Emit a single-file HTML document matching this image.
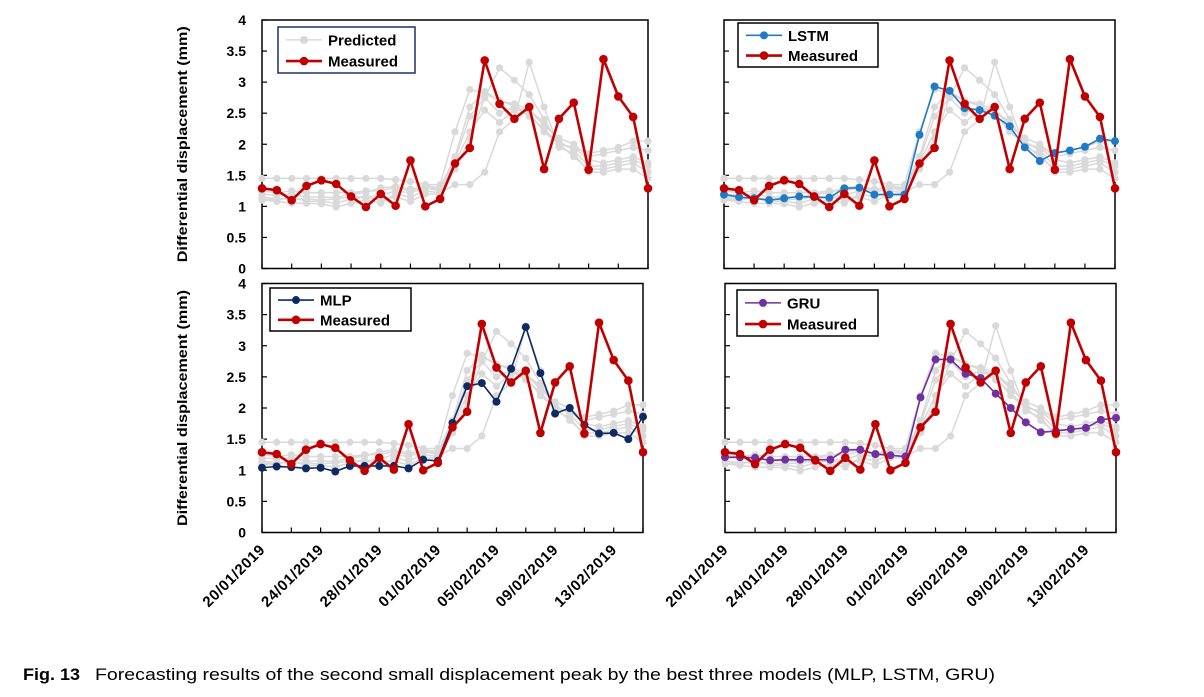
<!DOCTYPE html>
<html><head><meta charset="utf-8">
<style>
html,body{margin:0;padding:0;background:#fff;}
svg{display:block;font-family:"Liberation Sans",sans-serif;}
</style></head>
<body>
<svg id="chart" width="1204" height="697" viewBox="0 0 1204 697" xmlns="http://www.w3.org/2000/svg">
<text x="23" y="680" font-size="17" fill="#000"><tspan font-weight="bold" textLength="57" lengthAdjust="spacingAndGlyphs">Fig. 13</tspan></text>
<text x="95" y="680" font-size="17" fill="#000" textLength="900" lengthAdjust="spacingAndGlyphs">Forecasting results of the second small displacement peak by the best three models (MLP, LSTM, GRU)</text>
</svg>
<script>
const dateLabels = ["20/01/2019","24/01/2019","28/01/2019","01/02/2019","05/02/2019","09/02/2019","13/02/2019"];
const yTicks = [0,0.5,1,1.5,2,2.5,3,3.5,4];
const measured = [1.29,1.26,1.10,1.33,1.42,1.36,1.16,0.99,1.20,1.01,1.74,1.00,1.12,1.69,1.94,3.35,2.65,2.41,2.60,1.60,2.41,2.67,1.59,3.37,2.77,2.44,1.29];
const lstm = [1.19,1.15,1.13,1.10,1.13,1.16,1.15,1.14,1.29,1.30,1.19,1.19,1.19,2.15,2.93,2.86,2.58,2.55,2.46,2.29,1.95,1.73,1.86,1.90,1.96,2.09,2.05];
const mlp = [1.04,1.06,1.05,1.03,1.04,0.98,1.07,1.07,1.07,1.07,1.03,1.17,1.15,1.76,2.35,2.40,2.10,2.63,3.30,2.56,1.91,2.00,1.73,1.59,1.60,1.50,1.86];
const gru = [1.21,1.21,1.20,1.16,1.17,1.17,1.17,1.17,1.33,1.33,1.26,1.24,1.22,2.17,2.78,2.78,2.55,2.48,2.23,2.00,1.77,1.61,1.63,1.66,1.68,1.81,1.84];
const pred1 = [1.45,1.45,1.45,1.45,1.45,1.45,1.45,1.45,1.45,1.43,1.40,1.35,1.35,2.20,2.88,2.82,2.70,2.62,2.50,2.20,2.00,1.95,1.85,1.90,1.95,2.05,2.05];
const pred2 = [1.12,1.10,1.15,1.08,1.08,1.05,1.12,1.15,1.10,1.15,1.08,1.20,1.20,1.60,2.10,2.75,3.23,3.03,2.80,2.40,2.00,1.80,1.60,1.60,1.65,1.70,1.55];
const pred3 = [1.10,1.08,1.05,1.05,1.04,0.99,1.05,1.10,1.05,1.20,1.15,1.25,1.22,1.35,1.35,1.55,2.20,2.40,3.32,2.60,1.95,1.85,1.55,1.55,1.60,1.60,1.45];
const pred4 = [1.20,1.18,1.20,1.15,1.15,1.14,1.20,1.22,1.30,1.32,1.28,1.30,1.28,1.75,2.45,2.75,2.50,2.60,2.45,2.25,2.00,1.95,1.75,1.70,1.75,1.80,1.70];
const pred5 = [1.15,1.12,1.12,1.12,1.10,1.12,1.15,1.15,1.18,1.25,1.22,1.30,1.25,1.70,2.20,2.55,2.35,2.55,2.55,2.35,2.05,1.90,1.65,1.65,1.70,1.75,1.65];
const pred6 = [1.25,1.22,1.25,1.22,1.22,1.22,1.22,1.25,1.25,1.30,1.25,1.33,1.30,1.80,2.60,2.85,2.70,2.65,2.55,2.30,2.10,2.00,1.80,1.85,1.90,1.95,1.90];
const preds = [pred1,pred2,pred3,pred4,pred5,pred6];

const svg = document.getElementById('chart');
const NS = 'http://www.w3.org/2000/svg';
function mk(tag, attrs, parent){const e=document.createElementNS(NS,tag);for(const k in attrs)e.setAttribute(k,attrs[k]);(parent||svg).appendChild(e);return e;}

const panels = [
 {name:'panel-predicted', x0:262,x1:648,top:20,bot:268.5, model:null, color:null, label:'Predicted', legend:[278,27,137,46], lborder:'#1f2f6b', xlabels:false, ylabels:true},
 {name:'panel-lstm', x0:724,x1:1115,top:20,bot:268.5, model:lstm, color:'#1f7ac6', label:'LSTM', legend:[738,23,140,44], lborder:'#000', xlabels:false, ylabels:false},
 {name:'panel-mlp', x0:262,x1:643,top:283.5,bot:532.5, model:mlp, color:'#0f2a63', label:'MLP', legend:[270,288,141,43], lborder:'#000', xlabels:true, ylabels:true},
 {name:'panel-gru', x0:725,x1:1116,top:283.5,bot:532.5, model:gru, color:'#7030a0', label:'GRU', legend:[737,290,141,46], lborder:'#000', xlabels:true, ylabels:false}
];

panels.forEach(p=>{
  const g = mk('g',{});
  
  
  const n = measured.length;
  const xs = i => p.x0 + (p.x1-p.x0)*i/(n-1);
  const ys = v => p.bot - (p.bot-p.top)*v/4;
  // axis frame
  const fr = mk('rect',{x:p.x0,y:p.top,width:p.x1-p.x0,height:p.bot-p.top,fill:'none',stroke:'#000','stroke-width':1.5},g);
  
  
  // y ticks
  yTicks.forEach(t=>{
    const y = ys(t);
    mk('line',{x1:p.x0,x2:p.x0+5,y1:y,y2:y,stroke:'#000','stroke-width':1.2},g);
    if(p.ylabels){
      const tx = mk('text',{x:246,y:y+5,'font-size':14,'font-weight':'bold','text-anchor':'end'},g);
      tx.textContent = t;
      
      
    }
  });
  // x ticks every 2 points
  for(let i=0;i<n;i+=2){
    const x = xs(i);
    mk('line',{x1:x,x2:x,y1:p.bot,y2:p.bot-5,stroke:'#000','stroke-width':1.2},g);
  }
  if(p.xlabels){
    dateLabels.forEach((d,k)=>{
      const x = xs(k*4)+4, y = p.bot+18;
      const tx = mk('text',{x:x,y:y,'font-size':15,'font-weight':'bold','text-anchor':'end',transform:`rotate(-45 ${x} ${y})`,'letter-spacing':'0.6'},g);
      tx.textContent = d;
      
      
    });
  }
  if(p.ylabels){
    const cy = (p.top+p.bot)/2;
    const tx = mk('text',{x:187,y:cy,'font-size':14,'font-weight':'bold','text-anchor':'middle',transform:`rotate(-90 187 ${cy})`,textLength:236,lengthAdjust:'spacingAndGlyphs'},g);
    tx.textContent = 'Differential displacement (mm)';
    
    
  }
  function series(arr,color,w,r,name){
    const sg = mk('g',{},g);
    
    
    mk('polyline',{points:arr.map((v,i)=>xs(i)+','+ys(v)).join(' '),fill:'none',stroke:color,'stroke-width':w,'stroke-linejoin':'round'},sg);
    arr.forEach((v,i)=>{
      const c = mk('circle',{cx:xs(i),cy:ys(v),r:r,fill:color},sg);
      
      
    });
  }
  preds.forEach((arr,k)=>series(arr,'#d9d9d9',1.5,3.6,'predicted-series-'+(k+1)));
  if(p.model) series(p.model,p.color,1.6,4,'model-series');
  series(measured,'#c00000',2.6,4.3,'measured-series');
  // legend
  const [lx,ly,lw,lh] = p.legend;
  const lg = mk('g',{},g);
  
  
  mk('rect',{x:lx,y:ly,width:lw,height:lh,fill:'#fff',stroke:p.lborder,'stroke-width':1.5},lg);
  const c1 = p.model? p.color : '#d9d9d9';
  const e1y = ly+lh*0.28, e2y = ly+lh*0.74;
  mk('line',{x1:lx+8,x2:lx+44,y1:e1y,y2:e1y,stroke:c1,'stroke-width':p.model?1.6:1.5},lg);
  mk('circle',{cx:lx+26,cy:e1y,r:4,fill:c1},lg);
  mk('line',{x1:lx+8,x2:lx+44,y1:e2y,y2:e2y,stroke:'#c00000','stroke-width':2.6},lg);
  mk('circle',{cx:lx+26,cy:e2y,r:4.3,fill:'#c00000'},lg);
  const t1 = mk('text',{x:lx+50,y:e1y+5.5,'font-size':15,'font-weight':'bold'},lg);
  t1.textContent = p.label;
  
  
  const t2 = mk('text',{x:lx+50,y:e2y+5.5,'font-size':15,'font-weight':'bold'},lg);
  t2.textContent = 'Measured';
  
  
});
</script>
</body></html>
